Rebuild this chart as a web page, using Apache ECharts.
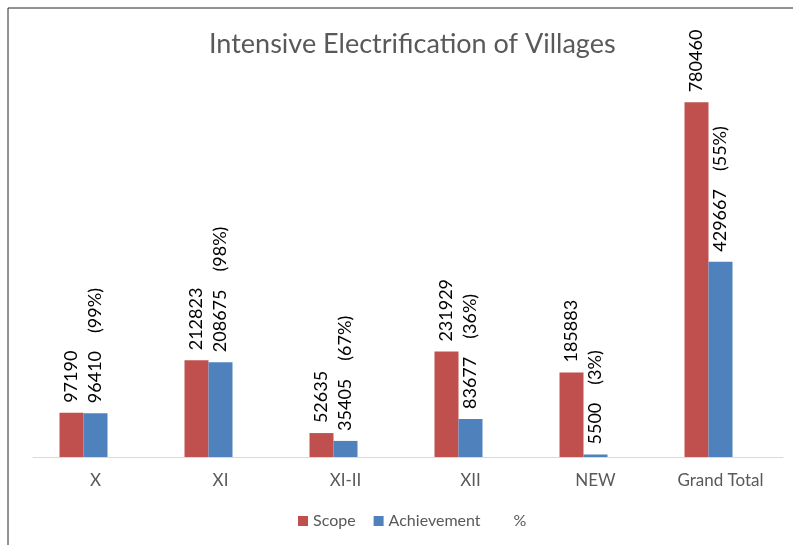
<!DOCTYPE html>
<html>
<head>
<meta charset="utf-8">
<script src="https://cdn.jsdelivr.net/npm/echarts@6/dist/echarts.min.js"></script>
<style>html,body{margin:0;padding:0;background:#fff}#c{width:793px;height:545px}</style>
</head>
<body>
<div id="c"></div>
<script>
var categories = ['X', 'XI', 'XI-II', 'XII', 'NEW', 'Grand Total'];
var scope = [97190, 212823, 52635, 231929, 185883, 780460];
var achievement = [96410, 208675, 35405, 83677, 5500, 429667];
var percent = [99, 98, 67, 36, 3, 55];

var FONT = 'Lato, "Open Sans", sans-serif';
var chart = echarts.init(document.getElementById('c'));
chart.setOption({
  backgroundColor: '#ffffff',
  animation: false,
  textStyle: { fontFamily: FONT },
  title: {
    text: 'Intensive Electrification of Villages',
    left: 204, top: 26,
    textStyle: { fontFamily: FONT, fontSize: 27, fontWeight: 'normal', color: '#595959' }
  },
  graphic: [{
    type: 'rect', silent: true,
    shape: { x: 8, y: 8, width: 900, height: 700 },
    style: { fill: 'none', stroke: '#262626', lineWidth: 1 }
  }],
  legend: {
    left: 293, top: 508,
    itemWidth: 10, itemHeight: 10, itemGap: 18,
    textStyle: { fontFamily: FONT, fontSize: 16, color: '#595959' },
    data: [
      { name: 'Scope', icon: 'rect' },
      { name: 'Achievement', icon: 'rect' },
      { name: '%', icon: 'rect', itemStyle: { color: 'rgba(0,0,0,0)' } }
    ]
  },
  grid: { left: 33, right: 10, top: 48, bottom: 88, containLabel: false, outerBoundsMode: 'none' },
  xAxis: {
    type: 'category', data: categories,
    axisLine: { lineStyle: { color: '#d9d9d9', width: 1 } },
    axisTick: { show: false },
    axisLabel: { color: '#595959', fontSize: 17, margin: 15, fontFamily: FONT }
  },
  yAxis: {
    type: 'value', min: 0, max: 900000, show: false,
    splitLine: { show: false }
  },
  series: [
    {
      name: 'Scope', type: 'bar', data: scope,
      barWidth: 24, barGap: '0%',
      itemStyle: { color: '#C0504D' },
      label: {
        show: true, position: 'top', rotate: 90, align: 'left', verticalAlign: 'middle',
        distance: 10, color: '#000', fontSize: 18, fontFamily: FONT
      }
    },
    {
      name: 'Achievement', type: 'bar', data: achievement,
      barWidth: 24, barGap: '0%',
      itemStyle: { color: '#4F81BD' },
      label: {
        show: true, position: 'top', rotate: 90, align: 'left', verticalAlign: 'middle',
        distance: 10, color: '#000', fontSize: 18, fontFamily: FONT,
        formatter: function (p) {
          return '{v|' + p.value + '}{g| }{p|(' + percent[p.dataIndex] + '%)}';
        },
        rich: {
          v: { fontSize: 18, color: '#000', fontFamily: FONT },
          g: { width: 18, fontSize: 18 },
          p: { fontSize: 18, color: '#000', fontFamily: FONT }
        }
      }
    },
    {
      name: '%', type: 'bar', data: percent,
      barWidth: 24, barGap: '0%',
      itemStyle: { color: 'rgba(0,0,0,0)' },
      label: { show: false }
    }
  ]
});
</script>
</body>
</html>
